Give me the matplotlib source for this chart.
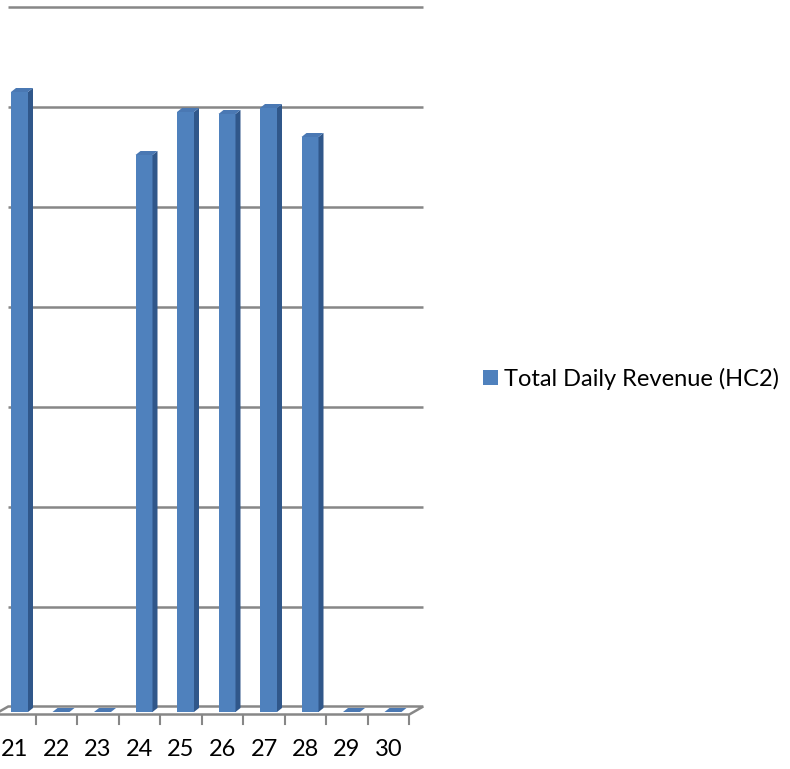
import matplotlib.pyplot as plt
import numpy as np
from matplotlib.patches import Polygon

plt.rcParams['font.family'] = ['Lato', 'DejaVu Sans']

days = [21, 22, 23, 24, 25, 26, 27, 28, 29, 30]
revenue = [6.2, 0, 0, 5.57, 6.0, 5.98, 6.04, 5.75, 0, 0]
grid_values = [0, 1, 2, 3, 4, 5, 6, 7]
series_name = 'Total Daily Revenue (HC2)'

front = '#4f81bd'
side = '#30578a'
top = '#4a78b3'
grid_c = '#878787'

fig = plt.figure(figsize=(7.9, 7.69), dpi=100)
ax = fig.add_axes([0, 0, 1, 1])
ax.set_axis_off()

# 1 category = 41.5 px, 1 value unit = 100 px
ax.set_xlim(21 - 15 / 41.5, 21 + 775 / 41.5)
ax.set_ylim(-0.57, 7.12)

# 3d offsets (wall depth and bar depth) in data units
wall_dx, wall_dy = 14 / 41.5, 0.08
bar_dx, bar_dy = 5 / 41.5, 0.04
bar_w = 17 / 41.5
shift = 4.5 / 41.5

x = np.array(days, dtype=float)
x0, x1 = x[0] - 0.5, x[-1] + 0.5
floor_y = -0.025

# back wall gridlines
for g in grid_values[1:]:
    ax.plot([x0 + wall_dx, x1 + wall_dx], [g + floor_y + wall_dy] * 2,
            color=grid_c, lw=1.8, zorder=1, solid_capstyle='butt')

# floor
floor = Polygon([(x0, floor_y), (x1, floor_y), (x1 + wall_dx, floor_y + wall_dy),
                 (x0 + wall_dx, floor_y + wall_dy)], closed=True,
                facecolor='white', edgecolor=grid_c, lw=1.8, zorder=1)
ax.add_patch(floor)

# tick marks on front edge of floor
for t in np.arange(x0 + 1, x1 + 0.01, 1):
    ax.plot([t, t], [floor_y, floor_y - 0.09], color=grid_c, lw=1.5, zorder=1)

# bars: front face + side + top
bars = ax.bar(x + shift, revenue, width=bar_w, color=front, zorder=3,
              label=series_name)
for xc, v in zip(x + shift, revenue):
    xl, xr = xc - bar_w / 2, xc + bar_w / 2
    ax.add_patch(Polygon([(xr, 0), (xr + bar_dx, bar_dy), (xr + bar_dx, v + bar_dy), (xr, v)],
                         closed=True, facecolor=side, edgecolor='none', zorder=3))
    ax.add_patch(Polygon([(xl, v), (xr, v), (xr + bar_dx, v + bar_dy), (xl + bar_dx, v + bar_dy)],
                         closed=True, facecolor=top, edgecolor='none', zorder=3))

for d in days:
    ax.text(d, -0.38, str(d), ha='center', va='center', fontsize=17, color='black')

fig.legend(handles=[bars], labels=[series_name], loc='center left',
           bbox_to_anchor=(483 / 790, 1 - 379 / 769), frameon=False,
           fontsize=17, handlelength=0.62, handleheight=0.62,
           handletextpad=0.25, borderpad=0, borderaxespad=0)

fig.savefig('out.png', dpi=100)
